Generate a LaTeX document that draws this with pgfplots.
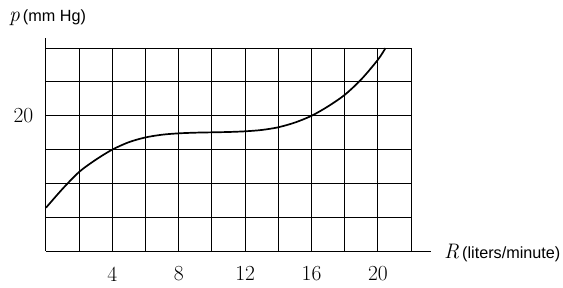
\documentclass[border=0pt]{standalone}
\usepackage{fontspec}
\setmainfont{Latin Modern Roman}
\setsansfont{Liberation Sans}
\usepackage{pgfplots}
\pgfplotsset{compat=1.18}
\begin{document}
\begin{tikzpicture}
\path[use as bounding box] (0,0) rectangle (563pt,287pt);
\begin{axis}[
  at={(46pt,36pt)}, anchor=south west,
  scale only axis,
  width=385.1pt, height=213pt,
  xmin=0, xmax=23.2, ymin=0, ymax=31.5,
  axis lines=left,
  axis line style={-, line width=1.0pt},
  xtick={4,8,12,16,20}, ytick={20},
  major tick length=0pt,
  /pgf/number format/assume math mode=true,
  tick label style={font=\fontsize{21.5}{24}\selectfont},
  xticklabel style={anchor=north, inner sep=0pt, yshift=-15.5pt},
  yticklabel style={anchor=east, inner sep=0pt, xshift=-12.5pt},
  clip=false,
]
\foreach \x in {2,4,...,22} {
  \edef\tmp{\noexpand\draw[line width=1.0pt] (axis cs:\x,0) -- (axis cs:\x,30);}\tmp
}
\foreach \y in {5,10,...,30} {
  \edef\tmp{\noexpand\draw[line width=1.0pt] (axis cs:0,\y) -- (axis cs:22,\y);}\tmp
}
\addplot[black, line width=1.7pt, smooth, no marks] coordinates {
 (0,6.4) (1,9.2) (2,11.7) (3,13.5) (4,15.0) (5,16.1) (6,16.8) (7,17.2)
 (8,17.4) (9,17.5) (10,17.55) (11,17.6) (12,17.7) (13,17.9) (14,18.3)
 (15,19.0) (16,20.0) (17,21.4) (18,23.1) (19,25.4) (20,28.3) (20.45,30.0)
};
\end{axis}
\node[anchor=base west, inner sep=0pt] at (9pt,265pt)
  {\fontsize{21.5}{24}\selectfont\textit{p}\hspace{3pt}\fontsize{16.2}{19}\selectfont\sffamily(mm Hg)};
\node[anchor=base west, inner sep=0pt] at (444pt,29pt)
  {\fontsize{21}{24}\selectfont\textit{R}\hspace{3pt}\fontsize{16.2}{19}\selectfont\sffamily(liters/minute)};
\end{tikzpicture}
\end{document}
